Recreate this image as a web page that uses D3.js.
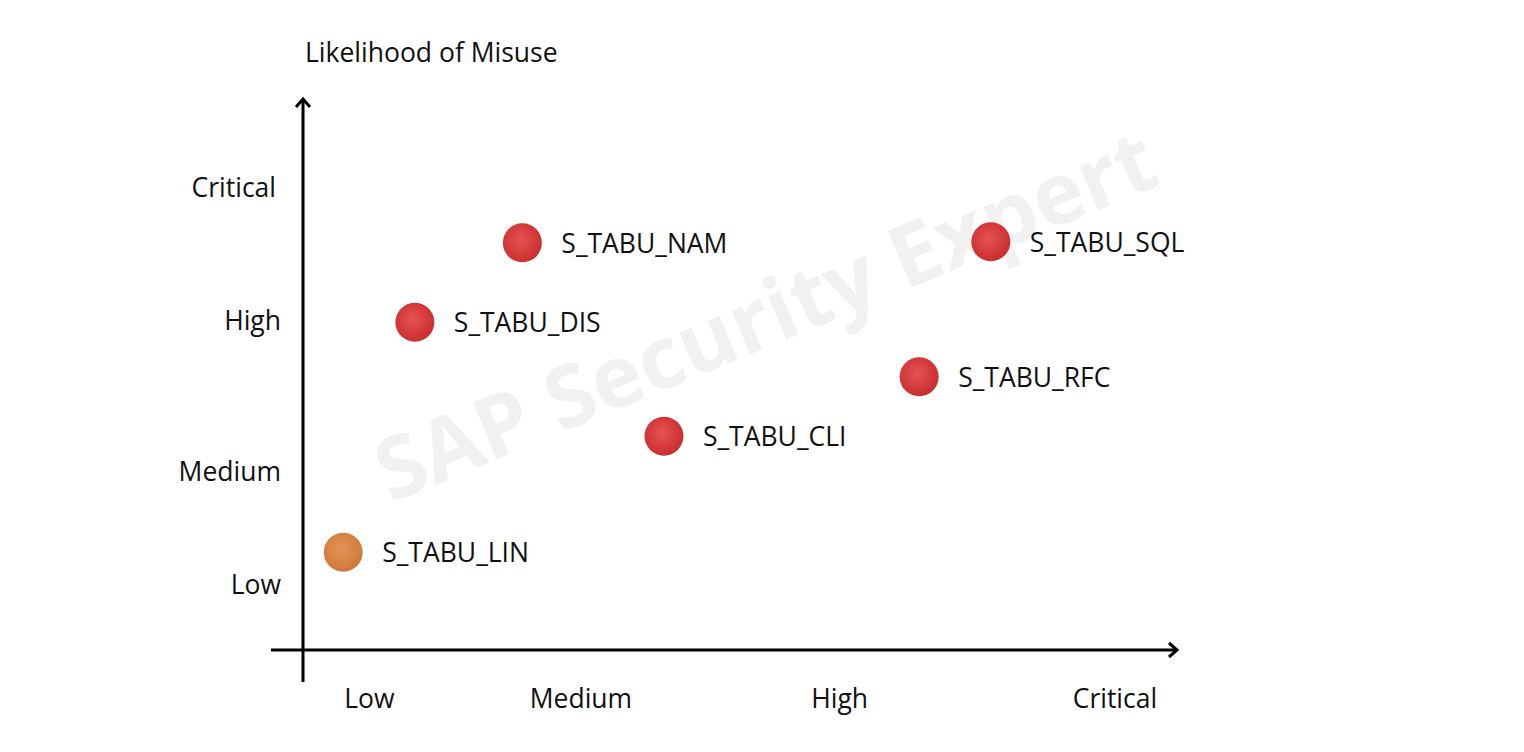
<!DOCTYPE html>
<html>
<head>
<meta charset="utf-8">
<script src="https://cdn.jsdelivr.net/npm/d3@7"></script>
<style>
  html, body { margin: 0; padding: 0; background: #fff; }
  text { font-family: "Open Sans", "Noto Sans", sans-serif; fill: #111; }
</style>
</head>
<body>
<div id="chart"></div>
<script>
// tables (0..10 on both axes)
const items = ["S_TABU_LIN", "S_TABU_DIS", "S_TABU_NAM", "S_TABU_CLI", "S_TABU_RFC", "S_TABU_SQL"];
const impact = [0.46, 1.28, 2.51, 4.13, 7.05, 7.87];
const likelihood = [1.81, 6.07, 7.54, 3.96, 5.06, 7.56];
const level = ["medium", "high", "high", "high", "high", "high"];

const xTickLabels = ["Low", "Medium", "High", "Critical"];
const xTickValues = [0.76, 3.18, 6.14, 9.29];
const yTickLabels = ["Low", "Medium", "High", "Critical"];
const yTickValues = [1.22, 3.31, 6.11, 8.57];

const yTitle = "Likelihood of Misuse";
const watermark = "SAP Security Expert";

const width = 1524, height = 752;
const svg = d3.select("#chart").append("svg")
  .attr("width", width).attr("height", height);

const x = d3.scaleLinear().domain([0, 10]).range([303, 1177]);
const y = d3.scaleLinear().domain([0, 10]).range([650, 110]);

const defs = svg.append("defs");
const grads = { high: ["#e35454", "#d23636", "#c42e2e"], medium: ["#e3925a", "#d6803f", "#c9733a"] };
Object.entries(grads).forEach(([k, c]) => {
  const g = defs.append("radialGradient").attr("id", "dot-" + k)
    .attr("cx", "45%").attr("cy", "42%").attr("r", "62%");
  g.append("stop").attr("offset", "0%").attr("stop-color", c[0]);
  g.append("stop").attr("offset", "70%").attr("stop-color", c[1]);
  g.append("stop").attr("offset", "100%").attr("stop-color", c[2]);
});

// watermark
svg.append("text")
  .attr("transform", "translate(768,322) rotate(-22.5)")
  .attr("text-anchor", "middle")
  .attr("dominant-baseline", "middle")
  .style("font-size", "86px")
  .style("font-weight", "bold")
  .style("fill", "#f1f1f1")
  .text(watermark);

// axes
const axisG = svg.append("g").attr("stroke", "#000").attr("stroke-width", 3)
  .attr("fill", "none").attr("stroke-linecap", "butt");
axisG.append("line").attr("x1", x(0)).attr("x2", x(0)).attr("y1", 682).attr("y2", 99);
axisG.append("line").attr("x1", 271).attr("x2", x(10)).attr("y1", y(0)).attr("y2", y(0));
axisG.append("path")
  .attr("d", `M${x(0) - 7},${107} L${x(0)},${99} L${x(0) + 7},${107}`)
  .attr("stroke-linejoin", "miter");
axisG.append("path")
  .attr("d", `M${x(10) - 8},${y(0) - 7} L${x(10)},${y(0)} L${x(10) - 8},${y(0) + 7}`)
  .attr("stroke-linejoin", "miter");

// tick labels
svg.append("g").selectAll("text").data(xTickLabels).join("text")
  .attr("x", (d, i) => x(xTickValues[i]))
  .attr("y", 701)
  .attr("text-anchor", "middle")
  .attr("dominant-baseline", "middle")
  .style("font-size", "26.5px")
  .text(d => d);

svg.append("g").selectAll("text").data(yTickLabels).join("text")
  .attr("x", (d, i) => i === 3 ? 276 : 281)
  .attr("y", (d, i) => y(yTickValues[i]) + 3)
  .attr("text-anchor", "end")
  .attr("dominant-baseline", "middle")
  .style("font-size", "26.5px")
  .text(d => d);

svg.append("text")
  .attr("x", 305).attr("y", 55)
  .attr("dominant-baseline", "middle")
  .style("font-size", "26.5px")
  .text(yTitle);

// points
const pts = svg.append("g").selectAll("g").data(items).join("g")
  .attr("transform", (d, i) => `translate(${x(impact[i])},${y(likelihood[i])})`);
pts.append("circle")
  .attr("r", 19.5)
  .attr("fill", (d, i) => `url(#dot-${level[i]})`);
pts.append("text")
  .attr("x", 39)
  .attr("y", 3)
  .attr("dominant-baseline", "middle")
  .style("font-size", "26.5px")
  .text(d => d);
</script>
</body>
</html>
